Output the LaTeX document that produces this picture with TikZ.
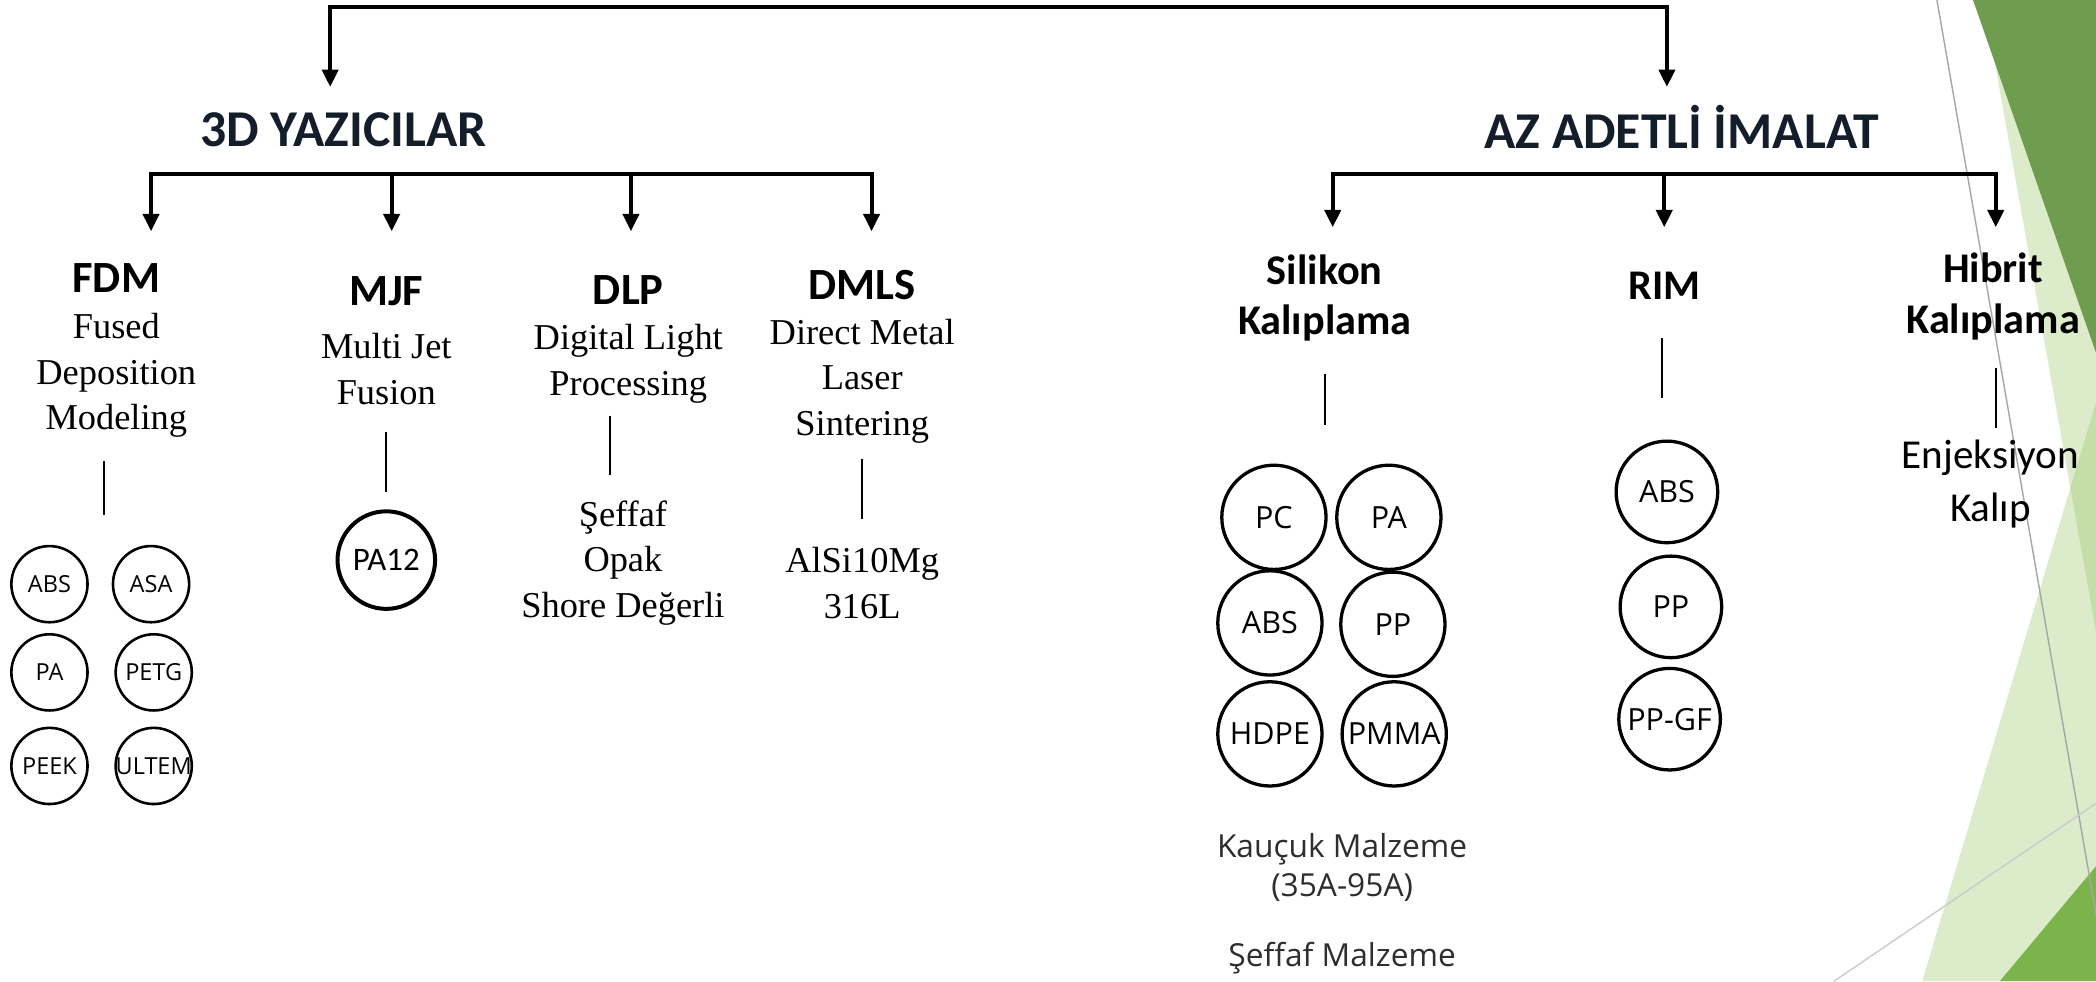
\documentclass[tikz,border=0pt]{standalone}
\usepackage{fontspec}
\setmainfont{Liberation Serif}
\newfontfamily\headfont{Carlito}
\newfontfamily\labfont{Open Sans}
\usetikzlibrary{arrows.meta,positioning,calc}
\definecolor{navy}{HTML}{141E2B}
\definecolor{facetdark}{HTML}{6F9D4F}
\definecolor{facetpale}{HTML}{9BC76A}
\definecolor{facetbright}{HTML}{7AB44A}
\definecolor{softtext}{HTML}{2E2E2E}

\tikzset{
  tip/.tip={Triangle[width=2.4mm,length=2.6mm]},
  bar/.style={line width=1.7pt, line join=miter},
  stem/.style={line width=0.9pt},
  big/.style={font=\headfont\bfseries\fontsize{22}{26}\selectfont, text=navy, inner sep=0pt},
  sub/.style={font=\headfont\bfseries\fontsize{19}{22}\selectfont, inner sep=0pt},
  sub2/.style={font=\headfont\bfseries\fontsize{18}{21.6}\selectfont, align=center, inner sep=0pt},
  desc/.style={font=\fontsize{15.5}{19.4}\selectfont, align=center, inner sep=0pt},
  note/.style={font=\headfont\fontsize{17.5}{22.8}\selectfont, align=center, inner sep=0pt},
  soft/.style={font=\labfont\fontsize{13.5}{16.5}\selectfont, text=softtext, align=center, inner sep=0pt},
  mat/.style={circle, draw, line width=1.1pt, minimum size=1.14cm, inner sep=0pt,
    label={[font=\labfont\fontsize{10}{12}\selectfont, text=black]center:#1}},
  bigmat/.style={circle, draw, line width=1.4pt, minimum size=1.56cm, inner sep=0pt,
    label={[font=\labfont\fontsize{13}{15}\selectfont, text=black]center:#1}},
  rimmat/.style={bigmat=#1, minimum size=1.52cm}
}

\begin{document}
\begin{tikzpicture}[x=0.02cm, y=-0.02cm]
  \useasboundingbox (0,0) rectangle (1568,734);
  \fill[white] (0,0) rectangle (1568,734);

  % facet background on the right
  \fill[facetpale, opacity=0.35] (1484,0) -- (1568,0) -- (1568,473) -- cycle;
  \fill[facetpale, opacity=0.35] (1568,301) -- (1438,734) -- (1568,734) -- cycle;
  \fill[facetdark] (1476,0) -- (1568,0) -- (1568,264) -- cycle;
  \fill[facetbright] (1496,734) -- (1568,648) -- (1568,734) -- cycle;
  \draw[black!35, line width=0.6pt] (1449,0) -- (1568,684);
  \draw[black!20, line width=0.6pt] (1372,734) -- (1568,601);

  % main headings
  \node[big] (yaz) at (257,97) {3D YAZICILAR};
  \node[big] (az) at (1258,95) {AZ ADETL\.I \.IMALAT};

  \coordinate (toprow) at (750,5);
  \coordinate (yazin) at (247,65);
  \coordinate (azin) at (1247,65);
  \draw[bar, tip-tip] (yazin) |- (toprow) -| (azin);

  % 3D printer branches
  \node[sub] (fdm) at (87,208) {FDM};
  \node[desc] (fdmtxt) at (87,281) {Fused\\Deposition\\Modeling};
  \node[sub] (mjf) at (289,218) {MJF};
  \node[desc] (mjftxt) at (289,276) {Multi Jet\\Fusion};
  \node[sub] (dlp) at (470,217) {DLP};
  \node[desc] (dlptxt) at (470,272) {Digital Light\\Processing};
  \node[sub] (dmls) at (645,213) {DMLS};
  \node[desc] (dmlstxt) at (645,285) {Direct Metal\\Laser\\Sintering};

  \coordinate (ybar) at (380,130);
  \coordinate (a1) at (113,173);
  \coordinate (a2) at (293,173);
  \coordinate (a3) at (472,173);
  \coordinate (a4) at (652,173);
  \draw[bar, tip-tip] (a1) |- (ybar) -| (a4);
  \draw[bar, -tip] (a2 |- ybar) -- (a2);
  \draw[bar, -tip] (a3 |- ybar) -- (a3);

  % low volume branches
  \node[sub2] (sil) at (991,223) {Silikon\\Kalıplama};
  \node[sub2] (rim) at (1245,214) {RIM};
  \node[sub2] (hib) at (1491,222) {Hibrit\\Kalıplama};

  \coordinate (zbar) at (1245,130);
  \coordinate (b1) at (997,170);
  \coordinate (b2) at (1245,170);
  \coordinate (b3) at (1493,170);
  \draw[bar, tip-tip] (b1) |- (zbar) -| (b3);
  \draw[bar, -tip] (b2 |- zbar) -- (b2);

  % stems
  \coordinate (s1) at (78,345);
  \coordinate (s2) at (289,323);
  \coordinate (s3) at (456,311);
  \coordinate (s4) at (645,343);
  \coordinate (s5) at (991,280);
  \coordinate (s6) at (1243,253);
  \coordinate (s7) at (1493,275);
  \draw[stem] (s1) -- ++(0,40);
  \draw[stem] (s2) -- ++(0,45);
  \draw[stem] (s3) -- ++(0,44);
  \draw[stem] (s4) -- ++(0,45);
  \draw[stem] (s5) -- ++(0,38);
  \draw[stem] (s6) -- ++(0,45);
  \draw[stem] (s7) -- ++(0,45);

  % materials
  \node[mat=ABS] (fabs) at (37,437) {};
  \node[mat=ASA] (fasa) at (113,437) {};
  \node[mat=PA] (fpa) at (37,503) {};
  \node[mat=PETG] (fpetg) at (115,503) {};
  \node[mat=PEEK] (fpeek) at (37,573) {};
  \node[mat=ULTEM] (fultem) at (115,573) {};

  \node[circle, draw, line width=1.7pt, minimum size=1.46cm, inner sep=0pt,
    label={[font=\headfont\fontsize{14}{16}\selectfont]center:PA12}] (pa12) at (289,419) {};

  \node[desc] (dlpmat) at (466,421) {Şeffaf\\Opak\\Shore Değerli};
  \node[desc] (dmlsmat) at (645,436) {AlSi10Mg\\316L};

  \node[bigmat=PC] (spc) at (953,387) {};
  \node[bigmat=PA] (spa) at (1039,387) {};
  \node[bigmat=ABS] (sabs) at (950,466) {};
  \node[bigmat=PP] (spp) at (1042,467) {};
  \node[bigmat=HDPE] (shdpe) at (950,549) {};
  \node[bigmat=PMMA] (spmma) at (1043,549) {};
  \node[soft] (kau) at (1004,649) {Kauçuk Malzeme\\(35A-95A)};
  \node[soft] (sef) at (1004,717) {Şeffaf Malzeme};

  \node[rimmat=ABS] (rabs) at (1247,368) {};
  \node[rimmat=PP] (rpp) at (1250,454) {};
  \node[rimmat=PP-GF] (rppgf) at (1249,538) {};

  \node[note] (hibmat) at (1489,362) {Enjeksiyon\\Kalıp};
\end{tikzpicture}
\end{document}
